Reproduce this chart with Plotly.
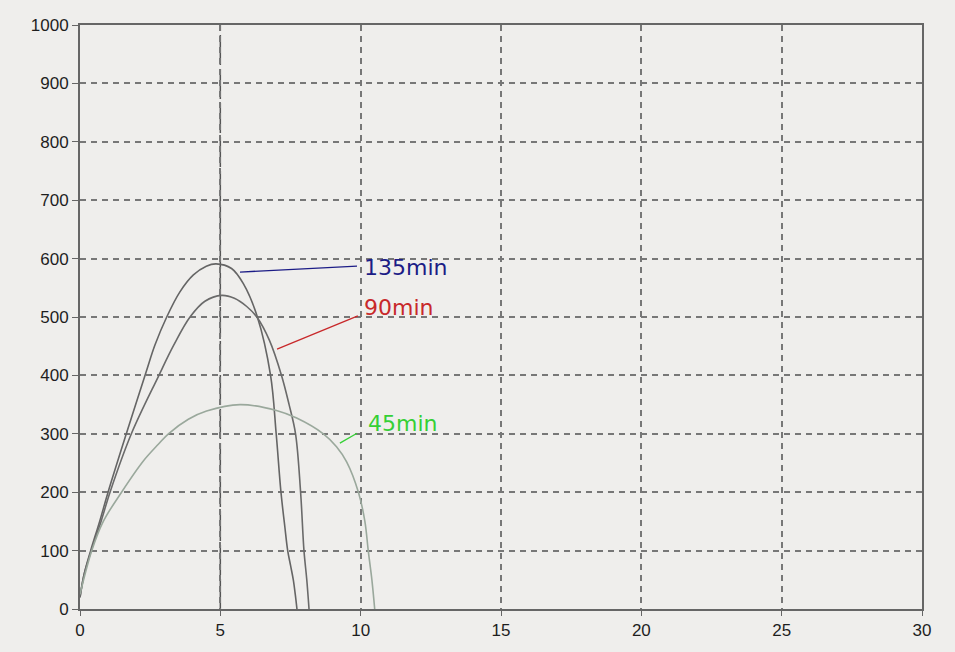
import plotly.graph_objects as go

# ---- data ----
x_135 = [0, 0.15, 0.38, 0.7, 1.0, 1.65, 2.35, 2.67, 3.09, 3.56, 4.04, 4.5, 4.85, 5.4, 5.82, 6.32, 6.79, 6.99, 7.16, 7.3, 7.4, 7.5, 7.6, 7.67, 7.73]
y_135 = [20, 60, 100, 150, 200, 300, 405, 452, 500, 543, 572, 587, 591, 583, 557, 500, 400, 300, 200, 140, 100, 75, 50, 25, 0]

x_90 = [0, 0.15, 0.4, 0.75, 1.07, 1.83, 2.79, 3.33, 3.92, 4.45, 5.05, 5.5, 5.94, 6.3, 6.75, 7.18, 7.45, 7.68, 7.86, 7.98, 8.08, 8.16]
y_90 = [20, 60, 100, 150, 200, 300, 398, 451, 500, 527, 537, 532, 518, 500, 460, 400, 350, 300, 200, 100, 50, 0]

x_45 = [0, 0.42, 0.83, 1.48, 2.25, 2.79, 3.15, 3.86, 4.51, 5.7, 7.0, 7.72, 8.67, 9.14, 9.5, 9.92, 10.15, 10.27, 10.4, 10.5]
y_45 = [25, 100, 150, 200, 253, 282, 300, 325, 339, 350, 340, 327, 300, 278, 252, 200, 150, 100, 50, 0]

series_names = ["135min", "90min", "45min"]
label_x = [10.05, 10.05, 10.19]
label_y = [584, 517, 317]
leader_x = [[5.70, 9.87], [7.02, 9.90], [9.26, 9.87]]
leader_y = [[577, 587], [445, 502], [284, 301]]

x_ticks = [0, 5, 10, 15, 20, 25, 30]
y_ticks = [0, 100, 200, 300, 400, 500, 600, 700, 800, 900, 1000]
marker_line_x = 5

# ---- styling ----
curve_colors = ["#656565", "#6a6a6a", "#9aa89c"]
label_colors = ["#1c1c86", "#c8282a", "#35d035"]
bg = "#efeeec"
axis_col = "#666666"

fig = go.Figure()

for xs, ys, c, n in zip([x_135, x_90, x_45], [y_135, y_90, y_45], curve_colors, series_names):
    fig.add_trace(go.Scatter(x=xs, y=ys, mode="lines", name=n,
                             line=dict(color=c, width=1.6, shape="spline", smoothing=1.0),
                             showlegend=False, hoverinfo="skip"))

for lx, ly, c in zip(leader_x, leader_y, label_colors):
    fig.add_trace(go.Scatter(x=lx, y=ly, mode="lines", line=dict(color=c, width=1.3),
                             showlegend=False, hoverinfo="skip"))

for n, tx, ty, c in zip(series_names, label_x, label_y, label_colors):
    fig.add_annotation(x=tx, y=ty, text=n, showarrow=False, xanchor="left", yanchor="middle",
                       font=dict(family="DejaVu Sans", size=22, color=c))

fig.add_shape(type="line", xref="x", yref="paper", x0=marker_line_x, x1=marker_line_x, y0=0, y1=1,
              line=dict(color="#555555", width=1.5, dash="30px,4px"), layer="below")

fig.update_layout(
    width=955, height=652,
    margin=dict(l=80, r=33, t=25, b=43),
    paper_bgcolor=bg, plot_bgcolor=bg,
    font=dict(family="Liberation Sans, Arial", size=17, color="#1e1e1e"),
)
fig.update_xaxes(range=[0, 30], tickvals=x_ticks, ticktext=[str(v) for v in x_ticks],
                 showline=True, linecolor=axis_col, linewidth=2, mirror=True,
                 showgrid=True, gridcolor="#777777", gridwidth=1.5, griddash="6px,5px",
                 ticks="outside", ticklen=5, tickcolor=axis_col, zeroline=False,
                 tickfont=dict(size=17, color="#1e1e1e"))
fig.update_yaxes(range=[0, 1000], tickvals=y_ticks, ticktext=[str(v) for v in y_ticks],
                 showline=True, linecolor=axis_col, linewidth=2, mirror=True,
                 showgrid=True, gridcolor="#777777", gridwidth=1.5, griddash="6px,5px",
                 ticks="outside", ticklen=6, tickcolor=axis_col, zeroline=False,
                 tickfont=dict(size=17, color="#1e1e1e"))

fig.write_html("out.html")
